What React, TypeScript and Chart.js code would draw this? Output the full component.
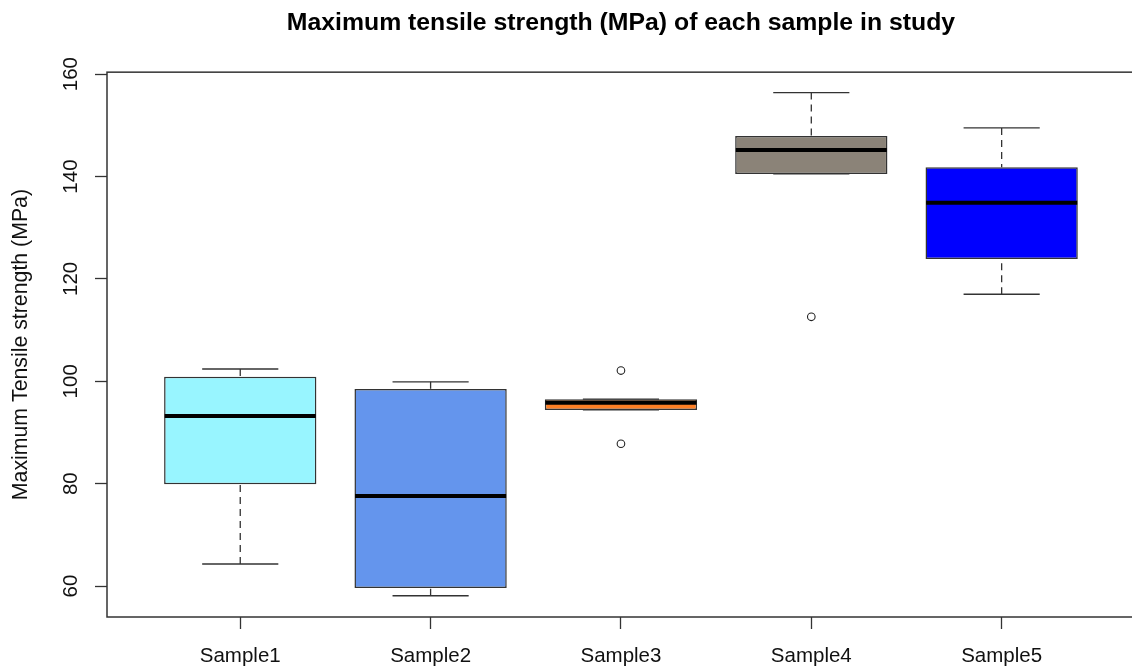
import React, { useEffect, useRef } from 'react';
import { Chart, registerables } from 'chart.js';

Chart.register(...registerables);

const categories = ['Sample1', 'Sample2', 'Sample3', 'Sample4', 'Sample5'];
const positions = [1, 2, 3, 4, 5];
const whiskerLow = [64.3, 58.1, 94.4, 140.5, 117.0];
const q1 = [79.9, 59.6, 94.4, 140.5, 123.9];
const median = [93.2, 77.6, 95.8, 145.2, 134.9];
const q3 = [100.9, 98.5, 96.5, 147.9, 141.8];
const whiskerHigh = [102.4, 99.9, 96.5, 156.4, 149.5];
const outlierSample = [3, 3, 4];
const outlierValues = [102.1, 87.8, 112.6];
const boxColors = ['#98F5FF', '#6495ED', '#FF7F24', '#8B8378', '#0000FF'];
const yTicks = [60, 80, 100, 120, 140, 160];
const TITLE = 'Maximum tensile strength (MPa) of each sample in study';
const Y_TITLE = 'Maximum Tensile strength (MPa)';

const FONT = "'Liberation Sans', Arial, sans-serif";

const boxPlugin = {
  id: 'boxExtras',
  afterDatasetsDraw(chart: any) {
    const { ctx, chartArea, scales } = chart;
    const x = scales.x;
    const y = scales.y;
    const line = (x1: number, y1: number, x2: number, y2: number) => {
      ctx.beginPath();
      ctx.moveTo(x1, y1);
      ctx.lineTo(x2, y2);
      ctx.stroke();
    };
    ctx.save();
    for (let i = 0; i < positions.length; i++) {
      const px = x.getPixelForValue(positions[i]);
      const capHalf = x.getPixelForValue(positions[i] + 0.2) - px;
      const boxHalf = x.getPixelForValue(positions[i] + 0.4) - px;
      ctx.strokeStyle = '#333';
      ctx.lineWidth = 1.3;
      ctx.lineCap = 'butt';
      ctx.setLineDash([7, 5]);
      if (whiskerHigh[i] > q3[i]) line(px, y.getPixelForValue(whiskerHigh[i]), px, y.getPixelForValue(q3[i]));
      if (whiskerLow[i] < q1[i]) line(px, y.getPixelForValue(whiskerLow[i]), px, y.getPixelForValue(q1[i]));
      ctx.setLineDash([]);
      const yh = y.getPixelForValue(whiskerHigh[i]);
      const yl = y.getPixelForValue(whiskerLow[i]);
      line(px - capHalf, yh, px + capHalf, yh);
      line(px - capHalf, yl, px + capHalf, yl);
      ctx.strokeStyle = '#000';
      ctx.lineWidth = 4;
      const ym = y.getPixelForValue(median[i]);
      line(px - boxHalf + 0.6, ym, px + boxHalf - 0.6, ym);
    }
    ctx.strokeStyle = '#333';
    ctx.lineWidth = 1.5;
    ctx.strokeRect(chartArea.left, chartArea.top, chartArea.right - chartArea.left, chartArea.bottom - chartArea.top);
    ctx.restore();
  },
};

export default function App() {
  const ref = useRef<HTMLCanvasElement>(null);
  useEffect(() => {
    Chart.defaults.font.family = FONT;
    const chart = new Chart(ref.current as HTMLCanvasElement, {
      type: 'bar',
      data: {
        datasets: [
          {
            type: 'bar',
            label: 'Box',
            data: positions.map((p, i) => ({ x: p, y: [q1[i], q3[i]] })) as any,
            backgroundColor: boxColors,
            borderColor: '#333',
            borderWidth: 1.5,
            borderSkipped: false,
            barPercentage: 0.8,
            categoryPercentage: 1,
            order: 2,
          } as any,
          {
            type: 'scatter',
            label: 'Outliers',
            data: outlierSample.map((s, i) => ({ x: s, y: outlierValues[i] })),
            pointRadius: 3.8,
            pointBackgroundColor: '#fff',
            pointBorderColor: '#222',
            pointBorderWidth: 1.1,
            order: 1,
          } as any,
        ],
      },
      options: {
        responsive: false,
        animation: false,
        layout: { padding: { left: 0, right: 2, top: 0, bottom: 0 } },
        plugins: {
          legend: { display: false },
          tooltip: { enabled: false },
          title: {
            display: true,
            text: TITLE,
            fullSize: false,
            color: '#000',
            font: { family: FONT, size: 24.8, weight: 'bold' },
            padding: { top: 8, bottom: 34.4 },
          },
        },
        scales: {
          x: {
            type: 'linear',
            min: 0.3,
            max: 5.7,
            offset: false,
            afterBuildTicks: (s: any) => {
              s.ticks = positions.map((v) => ({ value: v }));
            },
            afterFit: (s: any) => {
              s.height = 52;
            },
            grid: {
              offset: false,
              drawOnChartArea: false,
              drawTicks: true,
              tickLength: 12,
              tickColor: '#333',
              tickWidth: 1.3,
            },
            border: { display: false },
            ticks: {
              autoSkip: false,
              maxRotation: 0,
              minRotation: 0,
              padding: 15,
              color: '#111',
              font: { family: FONT, size: 20.5 },
              callback: (v: any) => {
                const idx = positions.indexOf(Number(v));
                return idx >= 0 ? categories[idx] : '';
              },
            },
          },
          y: {
            type: 'linear',
            min: 53.95,
            max: 160.39,
            afterBuildTicks: (s: any) => {
              s.ticks = yTicks.map((v) => ({ value: v }));
            },
            afterFit: (s: any) => {
              s.width = 107;
            },
            grid: {
              drawOnChartArea: false,
              drawTicks: true,
              tickLength: 12,
              tickColor: '#333',
              tickWidth: 1.3,
            },
            border: { display: false },
            ticks: {
              autoSkip: false,
              minRotation: 90,
              maxRotation: 90,
              crossAlign: 'center',
              padding: 6.5,
              color: '#111',
              font: { family: FONT, size: 20.5 },
            },
            title: {
              display: true,
              text: Y_TITLE,
              color: '#111',
              font: { family: FONT, size: 21.3 },
              padding: { top: 8.6, bottom: 0 },
            },
          },
        },
      } as any,
      plugins: [boxPlugin],
    });
    return () => chart.destroy();
  }, []);
  return (
    <div
      style={{
        position: 'fixed',
        left: 0,
        top: 0,
        width: 1132,
        height: 669,
        overflow: 'hidden',
        background: '#fff',
      }}
    >
      <canvas ref={ref} width={1140} height={669} style={{ display: 'block' }} />
    </div>
  );
}
